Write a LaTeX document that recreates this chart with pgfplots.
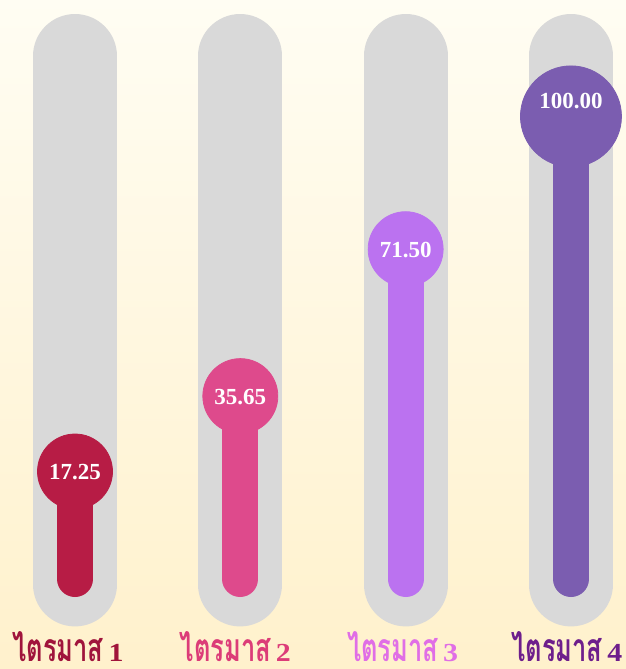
\documentclass[border=0pt]{standalone}
\usepackage{pgfplots}
\pgfplotsset{compat=1.18}
\usepackage{fontspec}
\setmainfont{Liberation Serif}
\newfontfamily\thaifont[Script=Thai]{Loma}
\definecolor{bgtop}{HTML}{FFFDF3}
\definecolor{bgbot}{HTML}{FFF1CC}
\definecolor{pill}{HTML}{D9D9D9}
\definecolor{c1}{HTML}{B71C45}
\definecolor{c2}{HTML}{DE4A8C}
\definecolor{c3}{HTML}{BB72F0}
\definecolor{c4}{HTML}{7B5DB0}
\definecolor{l1}{HTML}{A0143C}
\definecolor{l2}{HTML}{DC3C78}
\definecolor{l3}{HTML}{E06EE6}
\definecolor{l4}{HTML}{6E1E8C}
\newcommand{\qlabel}[1]{\raisebox{0pt}[\height][0pt]{\resizebox{45.5pt}{15pt}{\thaifont\bfseries ไตรมาส}}\hspace{2.5pt}\raisebox{0pt}[\height][0pt]{\scalebox{1.15}[1]{\fontsize{13}{14}\selectfont\bfseries #1}}}
\begin{document}
\begin{tikzpicture}
\begin{axis}[
  scale only axis, width=313pt, height=334.5pt,
  xmin=-0.4537, xmax=3.333, ymin=-30.94, ymax=132.31,
  axis line style={draw=none}, xtick=\empty, ytick=\empty,
  axis background/.style={top color=bgtop, bottom color=bgbot},
  clip=false,
  valnode/.style={nodes near coords={\pgfmathprintnumber[assume math mode=true,fixed,fixed zerofill,precision=2]{\pgfplotspointmeta}},
    point meta=y,
    every node near coord/.append style={anchor=center, text=white, inner sep=0pt, yshift=-0.5pt,
      font=\bfseries\fontsize{11.5}{12}\selectfont}},
]
% gray tracks
\addplot[draw=pill, line width=42pt, line cap=round] coordinates {(0,-10.30) (0,118.64)};
\addplot[draw=pill, line width=42pt, line cap=round] coordinates {(1,-10.30) (1,118.64)};
\addplot[draw=pill, line width=42pt, line cap=round] coordinates {(2,-10.30) (2,118.64)};
\addplot[draw=pill, line width=42pt, line cap=round] coordinates {(3,-10.30) (3,118.64)};
% colored bars
\addplot[draw=c1, line width=18pt, line cap=round] coordinates {(0,-8.98) (0,17.25)};
\addplot[draw=c2, line width=18pt, line cap=round] coordinates {(1,-8.98) (1,35.65)};
\addplot[draw=c3, line width=18pt, line cap=round] coordinates {(2,-8.98) (2,71.50)};
\addplot[draw=c4, line width=18pt, line cap=round] coordinates {(3,-8.98) (3,100.00)};
% value circles
\addplot[only marks, mark=*, mark size=18.75pt, color=c1, valnode] table[x=x, y=v] {
x v
0 17.25
};
\addplot[only marks, mark=*, mark size=18.75pt, color=c2, valnode] table[x=x, y=v] {
x v
1 35.65
};
\addplot[only marks, mark=*, mark size=18.75pt, color=c3, valnode] table[x=x, y=v] {
x v
2 71.50
};
\addplot[only marks, mark=*, mark size=25.25pt, color=c4, valnode,
  mark options={yshift=8pt}, every node near coord/.append style={yshift=8pt}] table[x=x, y=v] {
x v
3 100.00
};
% category labels
\node[anchor=base, inner sep=0pt, xshift=-3.5pt, text=l1] at (axis cs:0,-29.1) {\qlabel{1}};
\node[anchor=base, inner sep=0pt, xshift=-2.5pt, text=l2] at (axis cs:1,-29.1) {\qlabel{2}};
\node[anchor=base, inner sep=0pt, xshift=-1.5pt, text=l3] at (axis cs:2,-29.1) {\qlabel{3}};
\node[anchor=base, inner sep=0pt, xshift=-2pt, text=l4] at (axis cs:3,-29.1) {\qlabel{4}};
\end{axis}
\pgfresetboundingbox
\useasboundingbox (current axis.south west) rectangle (current axis.north east);
\end{tikzpicture}
\end{document}
